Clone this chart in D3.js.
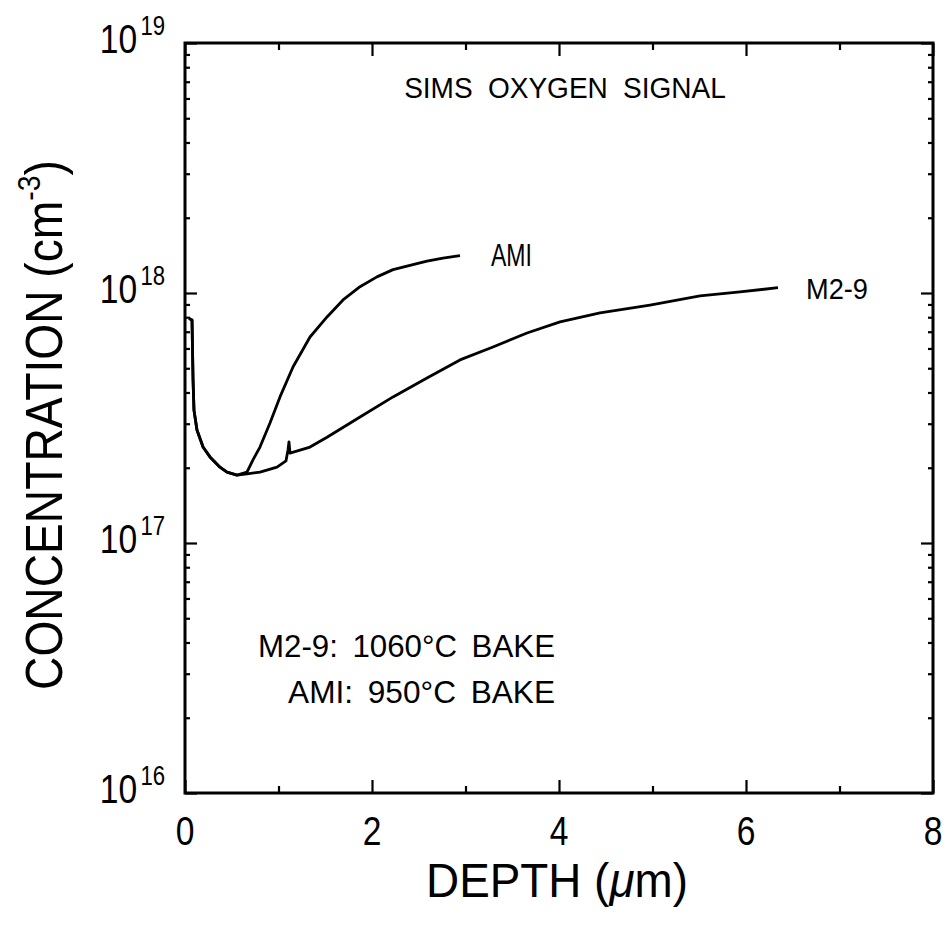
<!doctype html>
<html>
<head>
<meta charset="utf-8">
<style>
body { margin: 0; background: #fff; }
svg { font-family: "Liberation Sans", Arial, sans-serif; }
</style>
<script src="https://d3js.org/d3.v7.min.js"></script>
</head>
<body>
<svg width="948" height="935"></svg>
<script>
// values
var depthM29 = [0.043, 0.075, 0.086, 0.096, 0.128, 0.193, 0.267, 0.374, 0.449, 0.556, 0.663, 0.802, 0.984, 1.080, 1.102, 1.112, 1.123, 1.337, 1.519, 1.872, 2.225, 2.588, 2.941, 3.294, 3.658, 4.011, 4.439, 4.973, 5.508, 5.936, 6.342];
var concM29 = [7.9e17, 7.8e17, 4.5e17, 3.4e17, 2.83e17, 2.42e17, 2.21e17, 2.01e17, 1.92e17, 1.87e17, 1.89e17, 1.92e17, 2.01e17, 2.13e17, 2.36e17, 2.54e17, 2.29e17, 2.42e17, 2.65e17, 3.19e17, 3.84e17, 4.57e17, 5.40e17, 6.08e17, 6.92e17, 7.66e17, 8.32e17, 8.95e17, 9.73e17, 1.01e18, 1.05e18];

var depthAMI = [0.043, 0.075, 0.086, 0.096, 0.128, 0.193, 0.267, 0.374, 0.449, 0.556, 0.663, 0.727, 0.802, 0.909, 1.016, 1.155, 1.337, 1.519, 1.690, 1.872, 2.053, 2.225, 2.406, 2.588, 2.759, 2.941];
var concAMI = [7.9e17, 7.8e17, 4.5e17, 3.4e17, 2.83e17, 2.42e17, 2.21e17, 2.01e17, 1.92e17, 1.87e17, 1.92e17, 2.15e17, 2.42e17, 3.02e17, 3.84e17, 5.06e17, 6.67e17, 8.02e17, 9.38e17, 1.06e18, 1.16e18, 1.24e18, 1.29e18, 1.34e18, 1.38e18, 1.41e18];

var xMajor = [0, 2, 4, 6, 8];
var xMinor = [1, 3, 5, 7];
var yDecades = [16, 17, 18, 19];

var svg = d3.select("svg");
var mLeft = 185, mRight = 933, mTop = 43, mBottom = 793;

var x = d3.scaleLinear().domain([0, 8]).range([mLeft, mRight]);
var y = d3.scaleLog().domain([1e16, 1e19]).range([mBottom, mTop]);

var yMajor = yDecades.map(function(e) { return Math.pow(10, e); });
var yMinor = [];
yDecades.slice(0, 3).forEach(function(e) {
  for (var m = 2; m <= 9; m++) yMinor.push(m * Math.pow(10, e));
});

// squeeze a text element horizontally to a given width
function fit(t, w) {
  var bw = t.node().getBBox().width;
  t.attr("transform", "scale(" + (w / bw) + ",1)");
  return t;
}
function label(x0, y0, rot) {
  return svg.append("g").attr("transform", "translate(" + x0 + "," + y0 + ") rotate(" + (rot || 0) + ")");
}

// ticks on all four sides, pointing inward
function ticks(axis, vals, len, tr) {
  var g = svg.append("g").attr("transform", tr)
    .call(axis.tickValues(vals).tickSizeInner(-len).tickSizeOuter(0).tickFormat(""));
  g.select(".domain").remove();
  g.selectAll("line").attr("stroke", "#000").attr("stroke-width", 2.2);
}
ticks(d3.axisBottom(x), xMajor, 13, "translate(0," + mBottom + ")");
ticks(d3.axisBottom(x), xMinor, 7, "translate(0," + mBottom + ")");
ticks(d3.axisTop(x), xMajor, 13, "translate(0," + mTop + ")");
ticks(d3.axisTop(x), xMinor, 7, "translate(0," + mTop + ")");
ticks(d3.axisLeft(y), yMajor, 12, "translate(" + mLeft + ",0)");
ticks(d3.axisLeft(y), yMinor, 5, "translate(" + mLeft + ",0)");
ticks(d3.axisRight(y), yMajor, 12, "translate(" + mRight + ",0)");
ticks(d3.axisRight(y), yMinor, 5, "translate(" + mRight + ",0)");

svg.append("rect")
  .attr("x", mLeft).attr("y", mTop)
  .attr("width", mRight - mLeft).attr("height", mBottom - mTop)
  .attr("fill", "none").attr("stroke", "#000").attr("stroke-width", 3);

// curves
var line = d3.line()
  .x(function(d) { return x(d[0]); })
  .y(function(d) { return y(d[1]); });

[[depthM29, concM29], [depthAMI, concAMI]].forEach(function(s) {
  svg.append("path")
    .datum(d3.zip(s[0], s[1]))
    .attr("d", line)
    .attr("fill", "none")
    .attr("stroke", "#000")
    .attr("stroke-width", 2.8)
    .attr("stroke-linejoin", "round");
});

// x tick labels
xMajor.forEach(function(v) {
  var t = label(x(v), 845).append("text")
    .attr("text-anchor", "middle").attr("font-size", 41).text(v);
  t.attr("transform", "scale(0.82,1)");
});

// y tick labels 10^n
yDecades.forEach(function(e) {
  var t = label(165, y(Math.pow(10, e)) + 10).append("text")
    .attr("text-anchor", "end").attr("font-size", 41);
  t.append("tspan").text("10");
  t.append("tspan").attr("dx", 4).attr("dy", -18).attr("font-size", 27).text(e);
  t.attr("transform", "scale(0.82,1)");
});

// axis titles
var xt = label(557, 897).append("text").attr("text-anchor", "middle").attr("font-size", 48);
xt.append("tspan").text("DEPTH  (");
xt.append("tspan").attr("font-style", "italic").text("\u03bc");
xt.append("tspan").text("m)");
fit(xt, 262);

var yt = label(62, 425, -90).append("text").attr("text-anchor", "middle").attr("font-size", 52);
yt.append("tspan").text("CONCENTRATION  (cm");
yt.append("tspan").attr("dy", -22).attr("font-size", 32).text("-3");
yt.append("tspan").attr("dy", 22).text(")");
fit(yt, 530);

// annotations
fit(label(565, 98).append("text").attr("text-anchor", "middle").attr("font-size", 30)
  .attr("word-spacing", 8).text("SIMS OXYGEN SIGNAL"), 322);
fit(label(491, 266).append("text").attr("font-size", 31).text("AMI"), 41);
fit(label(806, 299).append("text").attr("font-size", 30).text("M2-9"), 62);
fit(label(555, 657).append("text").attr("text-anchor", "end").attr("font-size", 32)
  .attr("word-spacing", 6).text("M2-9: 1060\u00b0C BAKE"), 297);
fit(label(555, 703).append("text").attr("text-anchor", "end").attr("font-size", 32)
  .attr("word-spacing", 6).text("AMI: 950\u00b0C BAKE"), 267);
</script>
</body>
</html>
